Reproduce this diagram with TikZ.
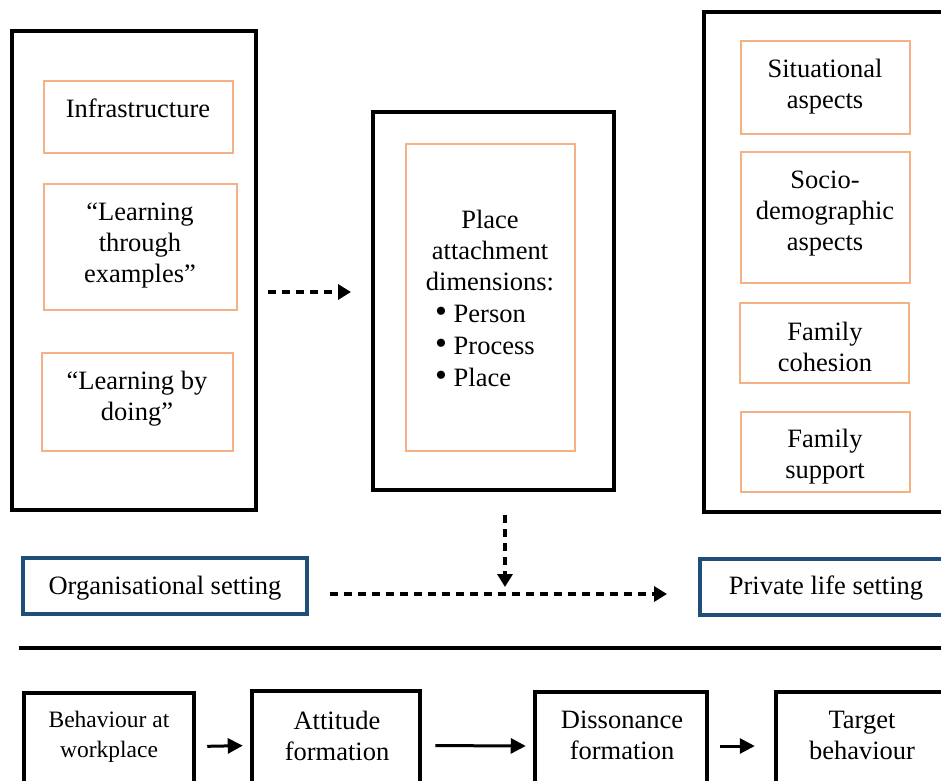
\documentclass[tikz,border=0pt]{standalone}
\usepackage{fontspec}
\setmainfont{Liberation Serif}
\usetikzlibrary{arrows.meta}
\definecolor{boxorange}{HTML}{F4B183}
\definecolor{boxblue}{HTML}{1F4E79}
\newcommand{\bigbul}{{\fontsize{34}{32}\selectfont\textbullet}}
\begin{document}
\begin{tikzpicture}[x=1pt,y=-1pt,
  outerbox/.style={draw=black, line width=4pt, inner sep=0pt},
  innerbox/.style={draw=boxorange, line width=2.4pt, inner sep=0pt},
  settingbox/.style={draw=boxblue, line width=4pt, inner sep=0pt},
  stagebox/.style={draw=black, line width=4.5pt, inner sep=0pt},
  txt/.style={align=center, inner sep=0pt, font=\fontsize{26.5}{31}\selectfont},
  dasharrow/.style={line width=3.2pt, dash pattern=on 8pt off 6pt, -{Triangle[length=13pt,width=15pt]}},
  solidarrow/.style={line width=3pt, -{Triangle[length=15pt,width=15pt]}},
]
\useasboundingbox (0,0) rectangle (941,780);
\clip (0,0) rectangle (941,780);

% left group
\node[outerbox, minimum width=244pt, minimum height=479pt] (left) at (134,270.5) {};
\node[innerbox, minimum width=189pt, minimum height=72pt] (infra) at (138.5,117) {};
\node[innerbox, minimum width=193pt, minimum height=126pt] (examples) at (140.5,247) {};
\node[innerbox, minimum width=191pt, minimum height=98pt] (doing) at (137.5,402) {};
\node[txt] (tInfra) at (138,108) {Infrastructure};
\node[txt] (tEx) at (140,245) {“Learning\\through\\examples”};
\node[txt] (tDo) at (137,399) {“Learning by\\doing”};

% middle group
\node[outerbox, minimum width=241pt, minimum height=378pt] (mid) at (493.5,301) {};
\node[innerbox, minimum width=169pt, minimum height=307pt] (place) at (490.5,297.5) {};
\node[txt] (tPlace) at (490,250) {Place\\attachment\\dimensions:};
\node[txt, align=left, anchor=west, font=\fontsize{26.5}{32}\selectfont] (tList) at (435,346) {\bigbul\ Person\\\bigbul\ Process\\\bigbul\ Place};

% right group
\node[outerbox, minimum width=258pt, minimum height=500pt] (right) at (833,262) {};
\node[innerbox, minimum width=169pt, minimum height=93pt] (sit) at (825.5,87.5) {};
\node[innerbox, minimum width=169pt, minimum height=131pt] (soc) at (825.5,217.5) {};
\node[innerbox, minimum width=169pt, minimum height=80pt] (coh) at (824.5,343) {};
\node[innerbox, minimum width=169pt, minimum height=80pt] (sup) at (825.5,452) {};
\node[txt] (tSit) at (825,87) {Situational\\aspects};
\node[txt] (tSoc) at (825,214) {Socio-\\demographic\\aspects};
\node[txt] (tCoh) at (825,347) {Family\\cohesion};
\node[txt] (tSup) at (825,457) {Family\\support};

% settings
\node[settingbox, minimum width=284pt, minimum height=56pt] (org) at (165,586) {};
\node[settingbox, minimum width=262pt, minimum height=56pt] (priv) at (831,587) {};
\node[txt] (tOrg) at (165,588) {Organisational setting};
\node[txt] (tPriv) at (826,588) {Private life setting};

% dashed connectors
\coordinate (a1) at ([yshift=-21.5pt]left.east);
\draw[dasharrow, shorten <=10pt, shorten >=20pt] (a1) -- (a1 -| mid.west);
\coordinate (h1) at ([yshift=-8pt]org.east);
\coordinate (j) at (505,594);
\draw[dasharrow, shorten <=23pt, shorten >=7pt] (mid.south -| j) -- (j);
\draw[dasharrow, shorten <=21pt, shorten >=31pt] (h1) -- (h1 -| priv.west);

% separator
\draw[line width=4pt] (19,648) -- (962,648);

% bottom row
\node[stagebox, minimum width=170pt, minimum height=107pt] (beh) at (109,746.5) {};
\node[stagebox, minimum width=168pt, minimum height=109pt] (att) at (336,745.5) {};
\node[stagebox, minimum width=172pt, minimum height=108pt] (dis) at (621,746) {};
\node[stagebox, minimum width=186pt, minimum height=108pt] (tar) at (869,746) {};
\node[txt, font=\fontsize{23.5}{30}\selectfont] (tBeh) at (109,737) {Behaviour at\\workplace};
\node[txt] (tAtt) at (337,735.5) {Attitude\\formation};
\node[txt] (tDis) at (622,735) {Dissonance\\formation};
\node[txt] (tTar) at (862,735) {Target\\behaviour};

\draw[solidarrow, shorten <=11pt, shorten >=7pt] (beh.east) -- (att.west);
\draw[solidarrow, shorten <=13pt, shorten >=7pt] (att.east) -- (dis.west);
\draw[solidarrow, shorten <=11pt, shorten >=19pt] (dis.east) -- (tar.west);
\end{tikzpicture}
\end{document}
